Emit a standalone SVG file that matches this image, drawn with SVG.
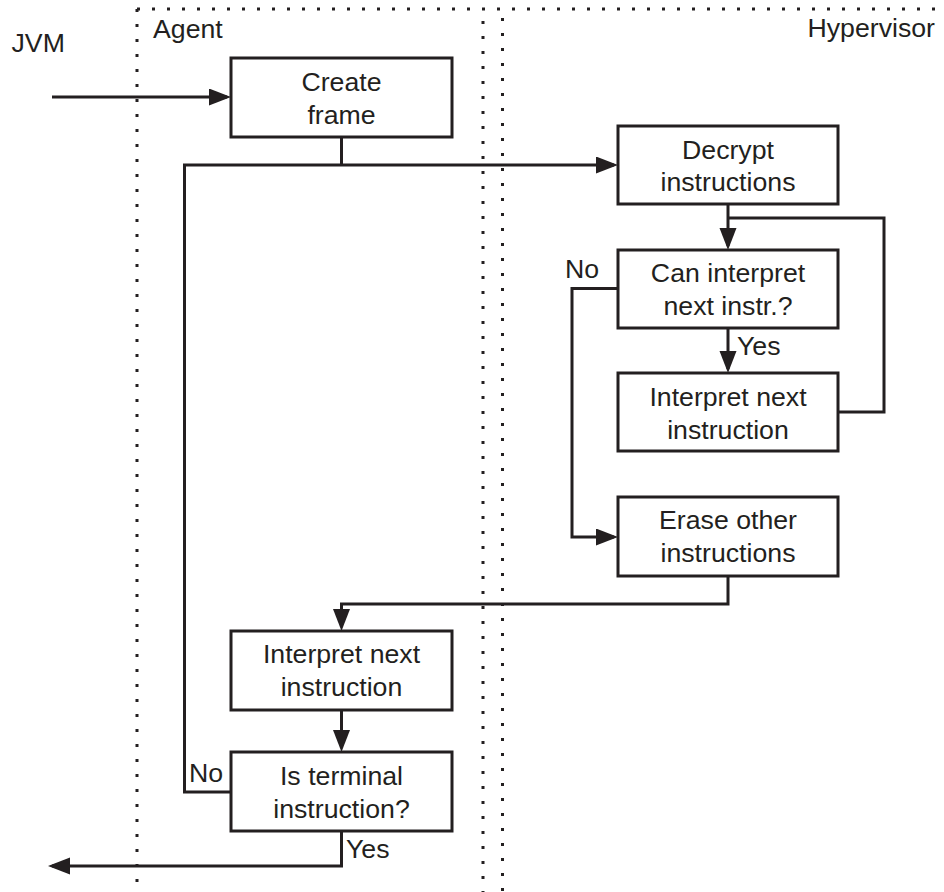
<svg xmlns="http://www.w3.org/2000/svg" width="944" height="892" viewBox="0 0 944 892">
<style>
text{font-family:"Liberation Sans",Arial,Helvetica,sans-serif;font-size:26.7px;fill:#231f20}
.c{text-anchor:middle}
.box{fill:#fff;stroke:#231f20;stroke-width:3}
.ln{fill:none;stroke:#231f20;stroke-width:3}
.arr{marker-end:url(#ah)}
.dot{fill:none;stroke:#231f20;stroke-width:3;stroke-dasharray:3 12}
</style>
<defs>
<marker id="ah" markerUnits="userSpaceOnUse" markerWidth="23" markerHeight="18" refX="18" refY="8.5" orient="auto">
<path d="M0,0 L22,8.5 L0,17 Z" fill="#231f20"/>
</marker>
</defs>
<rect width="944" height="892" fill="#fff"/>
<g id="lanes">
<line class="dot" x1="137" y1="9" x2="944" y2="9"/>
<line class="dot" x1="137" y1="9" x2="137" y2="892"/>
<line class="dot" x1="483" y1="21" x2="483" y2="892"/>
<line class="dot" x1="502.5" y1="18" x2="502.5" y2="892"/>
<text x="11.5" y="51.7">JVM</text>
<text x="153" y="38">Agent</text>
<text x="935" y="36.7" text-anchor="end">Hypervisor</text>
</g>
<g id="connectors">
<path class="ln arr" d="M52,97 H227"/>
<path class="ln" d="M341.5,137 V165"/>
<path class="ln arr" d="M231,792 H184.5 V165 H614"/>
<path class="ln arr" d="M728,204 V246"/>
<path class="ln" d="M838,412 H884 V218 H728"/>
<path class="ln arr" d="M728,328 V369"/>
<path class="ln arr" d="M618,288.5 H572 V537 H614"/>
<path class="ln arr" d="M728,576 V604 H341.5 V627"/>
<path class="ln arr" d="M341.5,710 V748"/>
<path class="ln arr" d="M341.5,831 V866 H52"/>
<text x="565" y="278">No</text>
<text x="737" y="355">Yes</text>
<text x="189" y="782">No</text>
<text x="346" y="858">Yes</text>
</g>
<g id="create-frame">
<rect class="box" x="231" y="58" width="221" height="79"/>
<text class="c" x="341.5" y="90.7">Create</text>
<text class="c" x="341.5" y="123.5">frame</text>
</g>
<g id="decrypt">
<rect class="box" x="618" y="126" width="220" height="78"/>
<text class="c" x="728" y="158.5">Decrypt</text>
<text class="c" x="728" y="191">instructions</text>
</g>
<g id="can-interpret">
<rect class="box" x="618" y="250" width="220" height="78"/>
<text class="c" x="728" y="282">Can interpret</text>
<text class="c" x="728" y="315">next instr.?</text>
</g>
<g id="interpret-hyp">
<rect class="box" x="618" y="373" width="220" height="78"/>
<text class="c" x="728" y="405.5">Interpret next</text>
<text class="c" x="728" y="438.5">instruction</text>
</g>
<g id="erase">
<rect class="box" x="618" y="497" width="220" height="79"/>
<text class="c" x="728" y="528.5">Erase other</text>
<text class="c" x="728" y="561.7">instructions</text>
</g>
<g id="interpret-agent">
<rect class="box" x="231" y="631" width="221" height="79"/>
<text class="c" x="341.5" y="663">Interpret next</text>
<text class="c" x="341.5" y="696">instruction</text>
</g>
<g id="is-terminal">
<rect class="box" x="231" y="752" width="221" height="79"/>
<text class="c" x="341.5" y="784.5">Is terminal</text>
<text class="c" x="341.5" y="817.5">instruction?</text>
</g>
</svg>
